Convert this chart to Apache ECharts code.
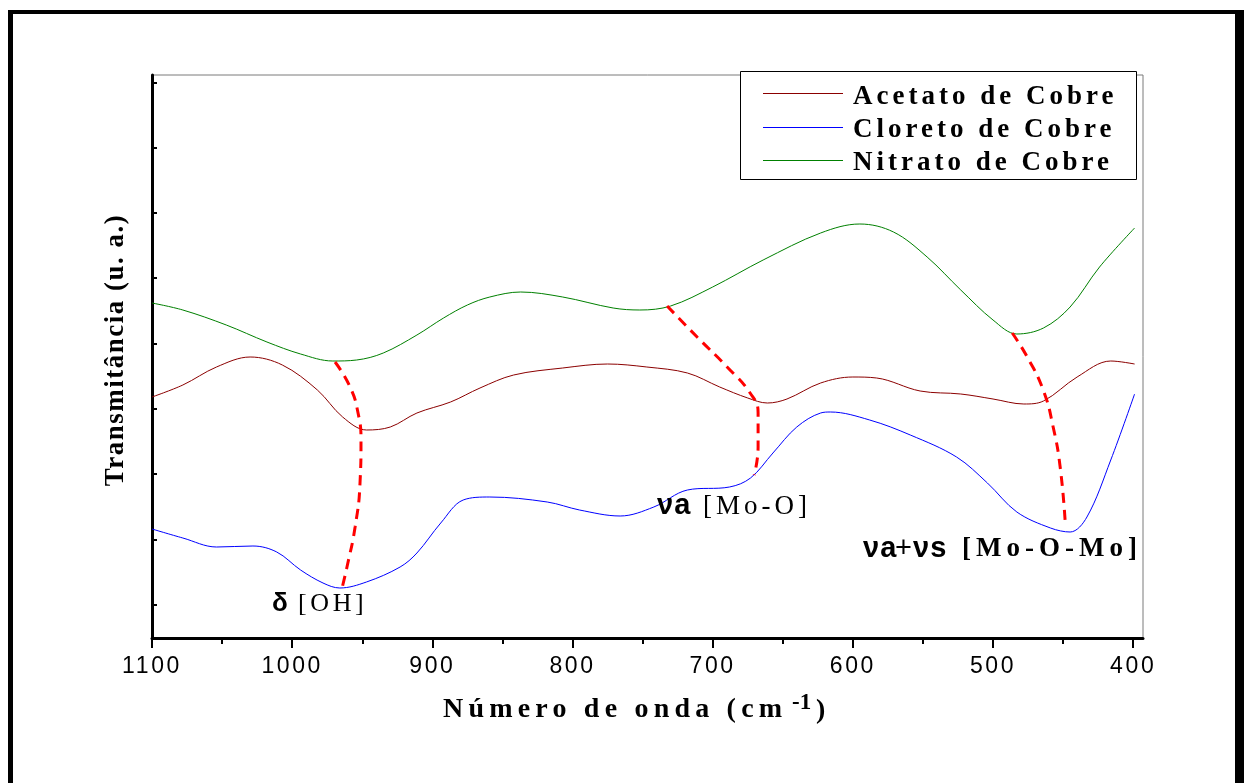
<!DOCTYPE html>
<html>
<head>
<meta charset="utf-8">
<script src="https://cdn.jsdelivr.net/npm/echarts@6.0.0/dist/echarts.min.js"></script>
<style>
html,body{margin:0;padding:0;background:#fff;}
#chart{width:1244px;height:783px;}
</style>
</head>
<body>
<div id="chart"></div>
<script>
// letter spacing support: a font family token "lsNN" means NN/10 px letter spacing
(function(){
  var P = CanvasRenderingContext2D.prototype;
  function ls(ctx){
    var f = ctx.font || '';
    var m = /\bls(\d+)\b/.exec(f);
    try { ctx.letterSpacing = m ? ((+m[1]) / 10 + 'px') : '0px'; } catch(e) {}
  }
  var ft = P.fillText, st = P.strokeText, mt = P.measureText;
  P.fillText = function(){ ls(this); return ft.apply(this, arguments); };
  P.strokeText = function(){ ls(this); return st.apply(this, arguments); };
  P.measureText = function(){ ls(this); return mt.apply(this, arguments); };
})();

// ---------------- data ----------------
const seriesNames = ['Acetato de Cobre', 'Cloreto de Cobre', 'Nitrato de Cobre'];
const seriesColors = ['#8b0000', '#0000ff', '#008000'];

const acetato = [[1100,24.1],[1078,25.3],[1054,27.1],[1030,28.1],[1007,27.3],[982,24.8],[964,22.1],[947,20.8],[930,21.1],[911,22.5],[887,23.6],[866,25.0],[842,26.3],[807,27.0],[775,27.4],[747,27.1],[718,26.5],[695,25.1],[675,24.0],[661,23.5],[647,23.9],[623,25.5],[600,26.1],[583,26.0],[552,24.7],[523,24.4],[500,23.9],[478,23.4],[464,23.7],[440,26.1],[416,27.7],[399,27.4]];

const cloreto = [[1100,10.9],[1078,10.0],[1054,9.1],[1028,9.2],[1011,8.6],[994,6.8],[978,5.5],[966,5.0],[947,5.6],[923,7.1],[911,8.5],[894,11.5],[878,13.8],[859,14.1],[818,13.6],[795,12.8],[766,12.2],[742,13.1],[718,14.8],[688,15.1],[673,16.0],[657,18.5],[640,21.1],[623,22.5],[616,22.6],[588,21.8],[559,20.3],[526,18.1],[504,15.5],[483,12.6],[459,11.0],[445,10.6],[433,12.1],[416,17.8],[399,24.4]];

const nitrato = [[1100,33.5],[1078,32.8],[1047,31.3],[1018,29.6],[994,28.4],[971,27.7],[954,27.8],[935,28.5],[911,30.3],[892,32.0],[875,33.3],[859,34.1],[837,34.6],[807,34.1],[771,33.0],[752,32.8],[730,33.2],[700,35.1],[664,37.8],[623,40.5],[595,41.4],[571,40.6],[547,38.1],[523,34.8],[500,31.8],[483,30.4],[464,31.0],[445,33.1],[424,37.1],[399,41.0]];

// dashed guide lines linking the bands
const bandOH = [[969.4,27.6],[958.7,25.1],[953.0,22.5],[950.9,19.8],[951.6,15.5],[955.1,11.1],[960.9,7.1],[964.4,5.0]];
const bandMoO = [[732.5,33.2],[711.1,30.1],[689.7,27.1],[673.3,24.5],[667.6,22.5],[667.6,19.1],[670.4,16.3]];
const bandMoOMo = [[486.3,30.5],[475.6,28.1],[464.2,24.8],[457.1,21.1],[452.1,17.1],[448.5,11.6]];

const xMajorTicks = [1100,1000,900,800,700,600,500,400];
const xMinorTicks = [1050,950,850,750,650,550,450];
const yTicks = [3.3,9.8,16.4,22.9,29.4,36.0,42.5,49.0,55.5];

const xLabel = 'Número de onda (cm';
const xLabelSup = '-1';
const yLabel = 'Transmitância (u. a.)';

// ---------------- chart ----------------
const chart = echarts.init(document.getElementById('chart'), null, {renderer:'canvas'});

const SERIF = "'Liberation Serif', 'Times New Roman', serif";
const SANS = "'Liberation Sans', Arial, sans-serif";

function txt(text, x, y, font, extra) {
  return Object.assign({
    type:'text', x:x, y:y, z:30,
    style:{text:text, font:font, fill:'#000', align:'left', verticalAlign:'middle', textAlign:'left', textVerticalAlign:'middle'}
  }, extra || {});
}

// legend key (sample line + name)
const legendLineY = [93.5, 127.5, 160.5];
const legendTextY = [97, 130.5, 163.5];
const legendGraphics = [];
seriesNames.forEach(function(n, i){
  legendGraphics.push({type:'line', z:20, shape:{x1:763, y1:legendLineY[i], x2:843, y2:legendLineY[i]}, style:{stroke:seriesColors[i], lineWidth:1}});
  legendGraphics.push(txt(n, 853, legendTextY[i], "bold 27px " + SERIF + ", ls40"));
});

const option = {
  animation:false,
  backgroundColor:'#fff',
  grid:{left:152, right:101, top:75, bottom:145, show:true, borderColor:'#7a7a7a', borderWidth:1, backgroundColor:'transparent'},
  xAxis:[{
    type:'value', inverse:true, min:393, max:1100, position:'bottom',
    axisLine:{show:true, onZero:false, lineStyle:{color:'#000', width:3}},
    axisTick:{show:true, customValues:xMajorTicks, length:10, inside:false, lineStyle:{color:'#000', width:2}},
    axisLabel:{show:true, customValues:xMajorTicks, margin:16, color:'#000', fontSize:23, fontFamily:SANS + ", ls26",
               formatter:function(v){ return String(v); }},
    splitLine:{show:false}
  },{
    type:'value', inverse:true, min:393, max:1100, position:'bottom',
    axisLine:{show:false},
    axisTick:{show:true, customValues:xMinorTicks, length:6, inside:false, lineStyle:{color:'#000', width:2}},
    axisLabel:{show:false},
    splitLine:{show:false}
  }],
  yAxis:{
    type:'value', min:0, max:56.3,
    axisLine:{show:true, onZero:false, lineStyle:{color:'#000', width:3}},
    axisTick:{show:true, customValues:yTicks, inside:true, length:5, lineStyle:{color:'#000', width:2}},
    axisLabel:{show:false},
    splitLine:{show:false}
  },
  series:[
    {type:'line', name:seriesNames[0], data:acetato, symbol:'none', smooth:0.35, z:3,
     lineStyle:{color:seriesColors[0], width:1}, itemStyle:{color:seriesColors[0]}},
    {type:'line', name:seriesNames[1], data:cloreto, symbol:'none', smooth:0.35, z:3,
     lineStyle:{color:seriesColors[1], width:1}, itemStyle:{color:seriesColors[1]}},
    {type:'line', name:seriesNames[2], data:nitrato, symbol:'none', smooth:0.35, z:3,
     lineStyle:{color:seriesColors[2], width:1}, itemStyle:{color:seriesColors[2]}},
    {type:'line', name:'δ [OH]', data:bandOH, symbol:'none', smooth:0.5, z:4,
     lineStyle:{color:'#ff0000', width:3, type:[10,7]}},
    {type:'line', name:'νa [Mo-O]', data:bandMoO, symbol:'none', smooth:0.5, z:4,
     lineStyle:{color:'#ff0000', width:3, type:[10,7]}},
    {type:'line', name:'νa+νs [Mo-O-Mo]', data:bandMoOMo, symbol:'none', smooth:0.5, z:4,
     lineStyle:{color:'#ff0000', width:3, type:[10,7]}}
  ],
  graphic:[
    // outer frame
    {type:'rect', z:40, shape:{x:8, y:10, width:5, height:780}, style:{fill:'#000'}},
    {type:'rect', z:40, shape:{x:8, y:10, width:1236, height:4}, style:{fill:'#000'}},
    {type:'rect', z:40, shape:{x:1235, y:10, width:9, height:780}, style:{fill:'#000'}},
    // legend box
    {type:'rect', z:10, shape:{x:740.5, y:71.5, width:396, height:108}, style:{fill:'#fff', stroke:'#000', lineWidth:1}}
  ].concat(legendGraphics).concat([
    // axis titles
    txt(xLabel, 443, 709.5, "bold 28px " + SERIF + ", ls52"),
    txt(xLabelSup, 792, 703, "bold 23px " + SERIF),
    txt(')', 816, 711, "bold 28px " + SERIF),
    txt(yLabel, 116, 350, "bold 27px " + SERIF + ", ls15", {rotation:Math.PI/2, style:{text:yLabel, font:"bold 27px " + SERIF + ", ls15", fill:'#000', align:'center', verticalAlign:'middle', textAlign:'center', textVerticalAlign:'middle'}}),
    // band annotations
    txt('δ', 272, 603.5, "bold 26px " + SANS),
    txt('[OH]', 298, 603.7, "26px " + SERIF + ", ls36"),
    txt('νa', 657, 506, "bold 29px " + SANS + ", ls10"),
    txt('[Mo-O]', 703, 507, "27px " + SERIF + ", ls40"),
    txt('νa', 863, 548.5, "bold 29px " + SANS + ", ls10"),
    txt('+', 895, 548.5, "29px " + SANS),
    txt('νs', 913, 548.5, "bold 29px " + SANS + ", ls10"),
    txt('[Mo-O-Mo]', 962, 549.4, "bold 27px " + SERIF + ", ls50")
  ])
};
chart.setOption(option);
</script>
</body>
</html>
